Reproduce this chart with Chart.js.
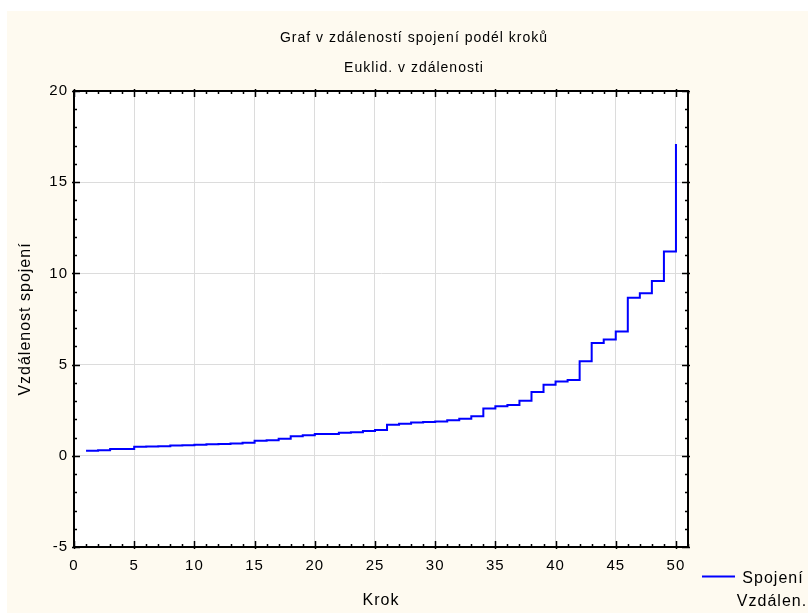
<!DOCTYPE html>
<html>
<head>
<meta charset="utf-8">
<script src="https://cdn.jsdelivr.net/npm/chart.js@4.4.1/dist/chart.umd.min.js"></script>
<style>
    html, body { margin: 0; padding: 0; background: #fff; }
    #wrap { width: 808px; height: 615px; }
</style>
</head>
<body>
<div id="wrap"><canvas id="stepChart" width="808" height="615"></canvas></div>
<script>
const steps = [
    1, 2, 3, 4, 5, 6, 7, 8, 9, 10,
    11, 12, 13, 14, 15, 16, 17, 18, 19, 20,
    21, 22, 23, 24, 25, 26, 27, 28, 29, 30,
    31, 32, 33, 34, 35, 36, 37, 38, 39, 40,
    41, 42, 43, 44, 45, 46, 47, 48, 49, 50
];
const distances = [
    0.28, 0.31, 0.37, 0.37, 0.49, 0.51, 0.53, 0.56, 0.58, 0.61,
    0.63, 0.65, 0.67, 0.71, 0.83, 0.85, 0.94, 1.07, 1.12, 1.19,
    1.20, 1.26, 1.29, 1.36, 1.42, 1.70, 1.76, 1.83, 1.85, 1.88,
    1.95, 2.03, 2.17, 2.60, 2.72, 2.79, 3.02, 3.50, 3.90, 4.08,
    4.15, 5.18, 6.18, 6.38, 6.82, 8.66, 8.91, 9.59, 11.20, 17.09
];
const xTicks = [0, 5, 10, 15, 20, 25, 30, 35, 40, 45, 50];
const yTicks = [-5, 0, 5, 10, 15, 20];
const titleLines = ['Graf v zdáleností spojení podél kroků', 'Euklid. v zdálenosti'];
const xTitle = 'Krok';
const yTitle = 'Vzdálenost spojení';
const legendLines = ['Spojení', 'Vzdálen.'];

const FONT = "'Liberation Sans', Arial, sans-serif";
const CREAM = '#FEFAF0';

// page + plot backgrounds
const backgroundPlugin = {
    id: 'backgrounds',
    beforeUpdate(chart) {
        chart.ctx.letterSpacing = '1px';
    },
    beforeDraw(chart) {
        const { ctx, chartArea: a } = chart;
        ctx.letterSpacing = '1px';
        ctx.save();
        ctx.fillStyle = '#fff';
        ctx.fillRect(0, 0, chart.width, chart.height);
        ctx.fillStyle = CREAM;
        ctx.fillRect(7, 11, chart.width - 7, chart.height - 13);
        ctx.fillStyle = '#fff';
        ctx.fillRect(a.left, a.top, a.right - a.left, a.bottom - a.top);
        ctx.restore();
    }
};

// closed frame with inward major/minor ticks on all sides
const framePlugin = {
    id: 'frame',
    afterDatasetsDraw(chart) {
        const { ctx, chartArea: a, scales: { x, y } } = chart;
        ctx.save();
        ctx.strokeStyle = '#000';
        ctx.lineWidth = 1.5;
        ctx.beginPath();
        for (let v = Math.ceil(x.min); v <= x.max; v++) {
            const px = Math.round(x.getPixelForValue(v)) + 0.5;
            const major = xTicks.includes(v);
            const len = major ? 6 : 3;
            const out = major ? 2 : 0;
            ctx.moveTo(px, a.bottom + out);
            ctx.lineTo(px, a.bottom - len);
            ctx.moveTo(px, a.top - out);
            ctx.lineTo(px, a.top + len);
        }
        for (let v = Math.ceil(y.min); v <= y.max; v++) {
            const py = Math.round(y.getPixelForValue(v)) + 0.5;
            const major = yTicks.includes(v);
            const len = major ? 6 : 3;
            const out = major ? 2 : 0;
            ctx.moveTo(a.left - out, py);
            ctx.lineTo(a.left + len, py);
            ctx.moveTo(a.right + out, py);
            ctx.lineTo(a.right - len, py);
        }
        ctx.stroke();
        ctx.lineWidth = 2;
        ctx.strokeRect(a.left, a.top, a.right - a.left, a.bottom - a.top);
        ctx.restore();
    }
};

// two title lines and the bottom-right legend
const textPlugin = {
    id: 'texts',
    afterDraw(chart) {
        const { ctx } = chart;
        const ds = chart.data.datasets[0];
        ctx.save();
        ctx.fillStyle = '#000';
        ctx.textAlign = 'center';
        ctx.textBaseline = 'middle';
        ctx.letterSpacing = '1px';
        ctx.font = '14px ' + FONT;
        ctx.fillText(titleLines[0], 414, 38);
        ctx.fillText(titleLines[1], 414, 68);

        ctx.strokeStyle = ds.borderColor;
        ctx.lineWidth = 2;
        ctx.beginPath();
        ctx.moveTo(702, 576.5);
        ctx.lineTo(735, 576.5);
        ctx.stroke();

        ctx.font = '16px ' + FONT;
        ctx.textBaseline = 'alphabetic';
        ctx.fillText(legendLines[0], 773, 583);
        ctx.fillText(legendLines[1], 772, 606);
        ctx.restore();
    }
};

new Chart(document.getElementById('stepChart'), {
    type: 'line',
    data: {
        labels: steps,
        datasets: [{
            label: legendLines.join(' '),
            data: steps.map((s, i) => ({ x: s, y: distances[i] })),
            borderColor: '#0000FF',
            borderWidth: 2,
            pointRadius: 0,
            stepped: 'before',
            fill: false
        }]
    },
    options: {
        responsive: false,
        animation: false,
        layout: { padding: { left: 0, top: 91, right: 120, bottom: 0 } },
        plugins: {
            legend: { display: false },
            title: { display: false },
            tooltip: { enabled: false }
        },
        scales: {
            x: {
                type: 'linear',
                min: 0,
                max: 51,
                afterBuildTicks: s => { s.ticks = xTicks.map(v => ({ value: v })); },
                afterFit: s => { s.height = 68; },
                ticks: {
                    color: '#000',
                    padding: 10,
                    maxRotation: 0,
                    font: { family: FONT, size: 15 }
                },
                grid: { color: '#DCDCDC', lineWidth: 1, drawTicks: false },
                border: { display: true, color: '#000', width: 2 },
                title: {
                    display: true,
                    text: xTitle,
                    color: '#000',
                    font: { family: FONT, size: 16 },
                    padding: { top: 0, bottom: 5 }
                }
            },
            y: {
                min: -5,
                max: 20,
                afterBuildTicks: s => { s.ticks = yTicks.map(v => ({ value: v })); },
                afterFit: s => { s.width = 74; },
                ticks: {
                    color: '#000',
                    padding: 6,
                    font: { family: FONT, size: 15 }
                },
                grid: { color: '#DCDCDC', lineWidth: 1, drawTicks: false },
                border: { display: true, color: '#000', width: 2 },
                title: {
                    display: true,
                    text: yTitle,
                    color: '#000',
                    font: { family: FONT, size: 16 },
                    padding: { top: 16, bottom: 0 }
                }
            }
        }
    },
    plugins: [backgroundPlugin, framePlugin, textPlugin]
});
</script>
</body>
</html>
